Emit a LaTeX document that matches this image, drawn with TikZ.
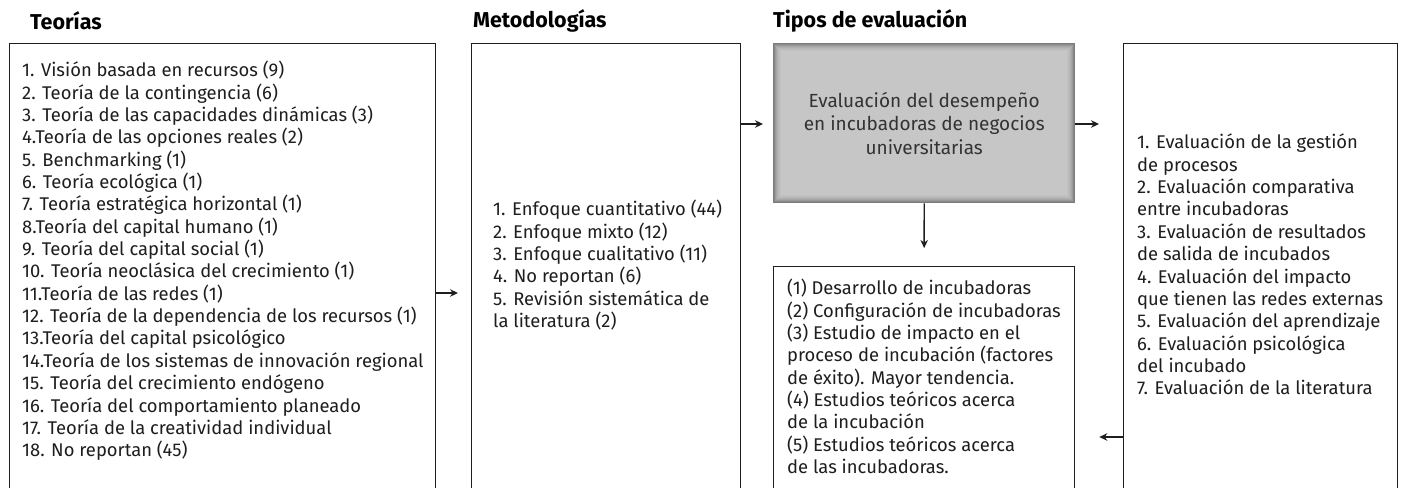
\documentclass[tikz,border=0pt]{standalone}
\usepackage{fontspec}
\setmainfont{Fira Sans}
\usetikzlibrary{arrows.meta}
\definecolor{lineblk}{HTML}{1E1E1E}
\definecolor{evalgray}{HTML}{C6C6C6}
\definecolor{evaltext}{HTML}{333333}
\begin{document}
\begin{tikzpicture}[x=1pt,y=-1pt,
  box/.style={draw=lineblk, line width=1.3pt, inner sep=0pt, anchor=north west},
  ttl/.style={anchor=west, inner sep=0pt, font=\fontsize{21.5}{24}\selectfont\bfseries},
  txt/.style={anchor=north west, inner sep=0pt, align=left, text=lineblk, font=\fontsize{18.4}{22.35}\selectfont},
  arr/.style={-{Stealth[length=8pt,width=7.5pt]}, line width=1.4pt, draw=lineblk}]
\useasboundingbox (0,0) rectangle (1402,487);
\clip (0,0) rectangle (1402,487);
\fill[white] (0,0) rectangle (1402,487);
% titles
\node[ttl] (t1) at (30,21) {Teorías};
\node[ttl] (t2) at (473,21) {Metodologías};
\node[ttl] (t3) at (773,21) {Tipos de evaluación};
% boxes
\node[box, minimum width=426pt, minimum height=500pt] (teo) at (9,43) {};
\node[box, minimum width=269pt, minimum height=500pt] (met) at (471,43) {};
\node[box, minimum width=301pt, minimum height=300pt] (res) at (773,266) {};
\node[box, minimum width=274pt, minimum height=500pt] (tip) at (1123,43) {};
% gray box with inner shadow
\node[anchor=north west, inner sep=0pt, fill=evalgray, minimum width=302pt, minimum height=160pt] (eval) at (773,43) {};
\foreach \i/\p in {0/52,1/46,2/40,3/35,4/31,5/28,6/26,7/24}{
  \draw[black!\p, line width=1pt] ([xshift=\i pt+0.5pt,yshift=-\i pt-0.5pt]eval.north west) rectangle ([xshift=-\i pt-0.5pt,yshift=\i pt+0.5pt]eval.south east);
}
\node[align=center, text=evaltext, font=\fontsize{19}{23.5}\selectfont, inner sep=0pt] (evaltxt) at (eval.center) {Evaluación del desempeño\\en incubadoras de negocios\\universitarias};
% texts
\node[txt] (teotxt) at (22,61) {1. Visión basada en recursos (9)\\2. Teoría de la contingencia (6)\\3. Teoría de las capacidades dinámicas (3)\\4.Teoría de las opciones reales (2)\\5. Benchmarking (1)\\6. Teoría ecológica (1)\\7. Teoría estratégica horizontal (1)\\8.Teoría del capital humano (1)\\9. Teoría del capital social (1)\\10. Teoría neoclásica del crecimiento (1)\\11.Teoría de las redes (1)\\12. Teoría de la dependencia de los recursos (1)\\13.Teoría del capital psicológico\\14.Teoría de los sistemas de innovación regional\\15. Teoría del crecimiento endógeno\\16. Teoría del comportamiento planeado\\17. Teoría de la creatividad individual\\18. No reportan (45)};
\node[txt] (mettxt) at (493,200) {1. Enfoque cuantitativo (44)\\2. Enfoque mixto (12)\\3. Enfoque cualitativo (11)\\4. No reportan (6)\\5. Revisión sistemática de\\la literatura (2)};
\node[txt] (restxt) at (787,279) {(1) Desarrollo de incubadoras\\(2) Configuración de incubadoras\\(3) Estudio de impacto en el\\proceso de incubación (factores\\de éxito). Mayor tendencia.\\(4) Estudios teóricos acerca\\de la incubación\\(5) Estudios teóricos acerca\\de las incubadoras.};
\node[txt] (tiptxt) at (1137,134) {1. Evaluación de la gestión\\de procesos\\2. Evaluación comparativa\\entre incubadoras\\3. Evaluación de resultados\\de salida de incubados\\4. Evaluación del impacto\\que tienen las redes externas\\5. Evaluación del aprendizaje\\6. Evaluación psicológica\\del incubado\\7. Evaluación de la literatura};
% connectors
\coordinate (y1) at (0,293);
\coordinate (y2) at (0,124);
\coordinate (y3) at (0,437);
\draw[arr, shorten >=13pt] (teo.east |- y1) -- (met.west |- y1);
\draw[arr, shorten >=10pt] (met.east |- y2) -- (eval.west |- y2);
\draw[arr, shorten >=24pt] (eval.east |- y2) -- (tip.west |- y2);
\draw[arr, shorten >=18pt] (eval.south) -- (res.north);
\draw[arr, shorten >=24pt] (tip.west |- y3) -- (res.east |- y3);
\end{tikzpicture}
\end{document}
